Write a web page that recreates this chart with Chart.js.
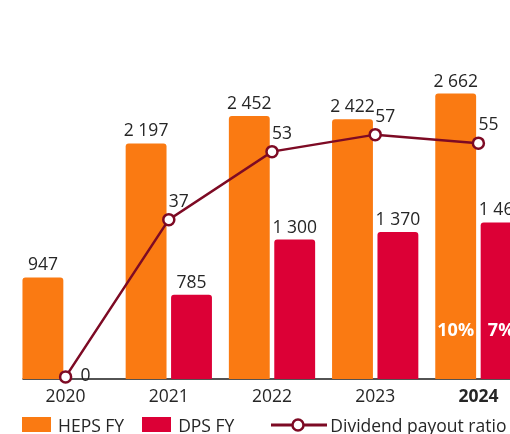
<!DOCTYPE html>
<html>
<head>
<meta charset="utf-8">
<script src="https://cdn.jsdelivr.net/npm/chart.js@4.4.1/dist/chart.umd.min.js"></script>
<style>
  html, body { margin: 0; padding: 0; background: #fff; width: 510px; height: 434px; overflow: hidden; }
  #wrap { position: relative; width: 540px; height: 434px; }
  #legend { position: absolute; left: 22px; top: 413px; display: flex; align-items: center;
            font: 17.5px "Open Sans", sans-serif; color: #262626; white-space: nowrap; height: 23px; }
  .box { width: 29px; height: 15px; margin-right: 7px; }
  .item { display: flex; align-items: center; }
</style>
</head>
<body>
<div id="wrap">
  <canvas id="chart"></canvas>
  <div id="legend">
    <div class="item"><div class="box" style="background:#FA7A12"></div><span>HEPS FY</span></div>
    <div class="item" style="margin-left:18px"><div class="box" style="background:#DC0036"></div><span>DPS FY</span></div>
    <div class="item" style="margin-left:37px">
      <svg width="56" height="16" style="margin-right:3px">
        <line x1="0" y1="8" x2="56" y2="8" stroke="#7D0A24" stroke-width="3"/>
        <circle cx="27" cy="8" r="5.5" fill="#fff" stroke="#7D0A24" stroke-width="2.5"/>
      </svg>
      <span>Dividend payout ratio</span>
    </div>
  </div>
</div>
<script>
const FONT = '"Open Sans", sans-serif';
const TEXT = '#262626';

// data
const years = ['2020', '2021', '2022', '2023', '2024'];
const heps = [947, 2197, 2452, 2422, 2662];
const dps = [0, 785, 1300, 1370, 1460];
const payoutRatio = [0, 37, 53, 57, 55];
const hepsGrowth = [null, null, null, null, '10%'];
const dpsGrowth = [null, null, null, null, '7%'];

const ORANGE = '#FA7A12';
const RED = '#DC0036';
const MAROON = '#7D0A24';

function fmt(v) {
  return String(v).replace(/\B(?=(\d{3})+(?!\d))/g, ' ');
}

const labelPlugin = {
  id: 'valueLabels',
  beforeDatasetsDraw(chart) {
    // baseline starts at the first bar, like the original
    const ctx = chart.ctx;
    const y0 = chart.scales.y.getPixelForValue(0);
    const first = chart.getDatasetMeta(0).data[0];
    ctx.save();
    ctx.strokeStyle = '#1a1a1a';
    ctx.lineWidth = 1.5;
    ctx.beginPath();
    ctx.moveTo(first.x - first.width / 2, y0);
    ctx.lineTo(chart.width, y0);
    ctx.stroke();
    ctx.restore();
  },
  afterDatasetsDraw(chart) {
    const ctx = chart.ctx;
    ctx.save();
    ctx.font = '17.5px ' + FONT;
    ctx.fillStyle = TEXT;
    ctx.textBaseline = 'alphabetic';

    // bar values
    [0, 1].forEach(di => {
      const ds = chart.data.datasets[di];
      chart.getDatasetMeta(di).data.forEach((bar, i) => {
        const v = ds.data[i];
        if (!v) return;
        ctx.textAlign = 'center';
        ctx.fillText(fmt(v), bar.x, bar.y - 7);
      });
    });

    // growth labels inside the 2024 bars
    ctx.font = 'bold 18px ' + FONT;
    ctx.fillStyle = '#fff';
    ctx.textAlign = 'center';
    ctx.textBaseline = 'middle';
    const y0 = chart.scales.y.getPixelForValue(0);
    [[0, hepsGrowth], [1, dpsGrowth]].forEach(([di, arr]) => {
      chart.getDatasetMeta(di).data.forEach((bar, i) => {
        if (arr[i]) ctx.fillText(arr[i], bar.x, y0 - 48);
      });
    });

    // payout ratio labels
    ctx.font = '17.5px ' + FONT;
    ctx.fillStyle = TEXT;
    ctx.textAlign = 'left';
    ctx.textBaseline = 'alphabetic';
    chart.getDatasetMeta(2).data.forEach((pt, i) => {
      const v = payoutRatio[i];
      if (v === 0) ctx.fillText(String(v), pt.x + 15, pt.y + 4);
      else ctx.fillText(String(v), pt.x, pt.y - 13);
    });
    ctx.restore();
  }
};

const config = {
  type: 'bar',
  data: {
    labels: years,
    datasets: [
      {
        label: 'HEPS FY',
        data: heps,
        backgroundColor: ORANGE,
        borderRadius: 3,
        borderSkipped: 'start',
        categoryPercentage: 0.88,
        barPercentage: 0.9,
        yAxisID: 'y',
        order: 2
      },
      {
        label: 'DPS FY',
        data: dps,
        backgroundColor: RED,
        borderRadius: 3,
        borderSkipped: 'start',
        categoryPercentage: 0.88,
        barPercentage: 0.9,
        yAxisID: 'y',
        order: 2
      },
      {
        type: 'line',
        label: 'Dividend payout ratio',
        data: payoutRatio,
        borderColor: MAROON,
        borderWidth: 2.5,
        tension: 0,
        pointRadius: 5.5,
        pointBorderWidth: 2.5,
        pointBackgroundColor: '#fff',
        pointBorderColor: MAROON,
        yAxisID: 'y2',
        order: 0,
        clip: false
      }
    ]
  },
  options: {
    responsive: true,
    maintainAspectRatio: false,
    animation: false,
    layout: { padding: { left: 14, right: 10, top: 0, bottom: 18 } },
    plugins: {
      legend: { display: false },
      tooltip: { enabled: false }
    },
    scales: {
      x: {
        grid: { display: false, drawTicks: false },
        border: { display: false },
        ticks: {
          padding: 8,
          color: TEXT,
          font: (c) => ({ family: FONT, size: 17.5, weight: c.index === 4 ? 'bold' : 'normal' })
        }
      },
      y: { display: false, min: 0, max: 3460 },
      y2: { display: false, min: -0.5, max: 86.8 }
    }
  },
  plugins: [labelPlugin]
};

const chart = new Chart(document.getElementById('chart'), config);
</script>
</body>
</html>
